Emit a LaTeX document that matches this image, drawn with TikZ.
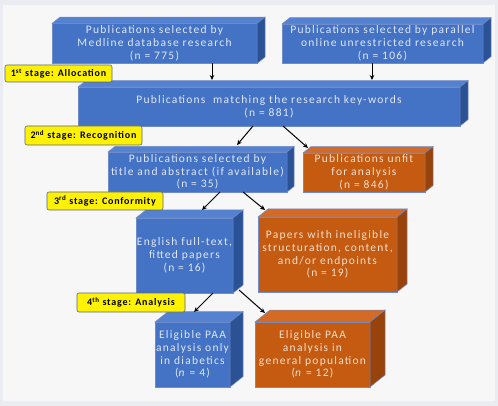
\documentclass[tikz,border=0pt]{standalone}
\usepackage{fontspec}
\setmainfont{Carlito}
\newfontfamily\boxfont[LetterSpace=11]{Carlito}
\newfontfamily\stagefont[LetterSpace=8]{Carlito}
\usepackage{xcolor}
\usetikzlibrary{arrows.meta,positioning}

\definecolor{bluefront}{RGB}{68,114,196}
\definecolor{bluetop}{RGB}{84,130,208}
\definecolor{blueside}{RGB}{44,82,150}
\definecolor{orangefront}{RGB}{197,90,17}
\definecolor{orangetop}{RGB}{212,106,36}
\definecolor{orangeside}{RGB}{152,66,12}
\definecolor{boxline}{RGB}{112,140,200}
\definecolor{bluetext}{RGB}{224,232,246}
\definecolor{orangetext}{RGB}{246,224,206}
\definecolor{stageline}{RGB}{88,100,120}
\definecolor{pagebg}{RGB}{247,247,248}
\definecolor{pageframe}{RGB}{234,236,241}

% depth faces of a box: node, depth, colour
\newcommand\extrude[3]{%
	\filldraw[fill=#3top,draw=boxline,line width=.5pt] (#1.north west) -- ++({#2},{-0.8*#2}) -- ([shift={({#2},{-0.8*#2})}]#1.north east) -- (#1.north east) -- cycle;
	\filldraw[fill=#3side,draw=boxline,line width=.5pt] (#1.north east) -- ++({#2},{-0.8*#2}) -- ([shift={({#2},{-0.8*#2})}]#1.south east) -- (#1.south east) -- cycle;}

\begin{document}
\begin{tikzpicture}[x=1pt, y=-1pt,
	box/.style={draw=boxline, line width=.5pt, fill=bluefront, text=bluetext, align=center, inner sep=1pt, outer sep=0pt, font=\boxfont\fontsize{11.5}{12.8}\selectfont},
	ebox/.style={box, fill=orangefront, text=orangetext},
	stage/.style={draw=stageline, line width=.6pt, fill=yellow, rounded corners=2pt, inner sep=1pt, outer sep=0pt, font=\stagefont\fontsize{10}{10}\selectfont\bfseries},
	arr/.style={-{Stealth[length=5pt,width=4.5pt]}, line width=1pt}]
	% page
	\fill[pageframe] (0,0) rectangle (498,406);
	\fill[pagebg] (3,5) rectangle (495,401);
	% first row
	\node[box, minimum width=205pt, minimum height=40pt] (medline) at (154.5,43.5) {Publications selected by\\Medline database research\\(n = 775)};
	\extrude{medline}{8}{blue}
	\node[box, minimum width=201pt, minimum height=39pt] (parallel) at (382.5,43.5) {Publications selected by parallel\\online unrestricted research\\(n = 106)};
	\extrude{parallel}{8}{blue}
	% matching
	\node[box, minimum width=382pt, minimum height=39pt] (match) at (269,106.5) {Publications\ \ matching the research key-words\\(n = 881)};
	\extrude{match}{8}{blue}
	% recognition
	\node[box, minimum width=179pt, minimum height=40pt] (title) at (197.5,172) {Publications selected by\\title and abstract (if available)\\(n = 35)};
	\extrude{title}{7}{blue}
	\node[ebox, minimum width=122pt, minimum height=39pt] (unfit) at (364,172.5) {Publications unfit\\for analysis\\(n = 846)};
	\extrude{unfit}{8}{orange}
	% conformity
	\node[box, minimum width=95pt, minimum height=75pt] (fitted) at (184.5,255.5) {English full-text,\\fitted papers\\(n = 16)};
	\extrude{fitted}{10}{blue}
	\node[ebox, minimum width=139pt, minimum height=75pt] (inelig) at (327.5,254.5) {Papers with ineligible\\structuration, content,\\and/or endpoints\\(n = 19)};
	\extrude{inelig}{10}{orange}
	% analysis
	\node[box, minimum width=75pt, minimum height=65pt] (diab) at (192.5,354.5) {Eligible PAA\\analysis only\\in diabetics\\(\textit{n} = 4)};
	\extrude{diab}{13}{blue}
	\node[ebox, minimum width=115pt, minimum height=65pt] (general) at (312.5,354.5) {Eligible PAA\\analysis in\\general population\\(\textit{n} = 12)};
	\extrude{general}{15}{orange}
	% arrows
	\draw[arr] ([xshift=57.5pt]medline.south) -- ([xshift=-57pt,yshift=7pt]match.north);
	\draw[arr] ([xshift=-10.5pt]parallel.south) -- ([xshift=103pt,yshift=7pt]match.north);
	\draw[arr] ([xshift=-16pt]match.south) -- ([xshift=39.5pt,yshift=7pt]title.north);
	\draw[arr] ([xshift=14pt]match.south) -- ([xshift=-56pt,yshift=5pt]unfit.north);
	\draw[arr] ([xshift=22.5pt]title.south) -- ([xshift=17.5pt,yshift=8pt]fitted.north);
	\draw[arr] ([xshift=45.5pt]title.south) -- ([xshift=-62.5pt,yshift=7pt]inelig.north);
	\draw[arr] ([xshift=28.5pt]fitted.south) -- ([xshift=1.5pt,yshift=10pt]diab.north);
	\draw[arr] ([xshift=6pt,yshift=3pt]fitted.south east) -- ([xshift=-47.5pt,yshift=9pt]general.north);
	% stage labels
	\node[stage, minimum width=107pt, minimum height=17pt] (alloc) at (58.5,73.5) {1\textsuperscript{st} stage: Allocation};
	\node[stage, minimum width=117pt, minimum height=19pt] (recog) at (83.5,135.5) {2\textsuperscript{nd} stage: Recognition};
	\node[stage, minimum width=116pt, minimum height=18pt] (conform) at (105,201) {3\textsuperscript{rd} stage: Conformity};
	\node[stage, minimum width=108pt, minimum height=19pt] (anal) at (131,302.5) {4\textsuperscript{th} stage: Analysis};
\end{tikzpicture}
\end{document}
